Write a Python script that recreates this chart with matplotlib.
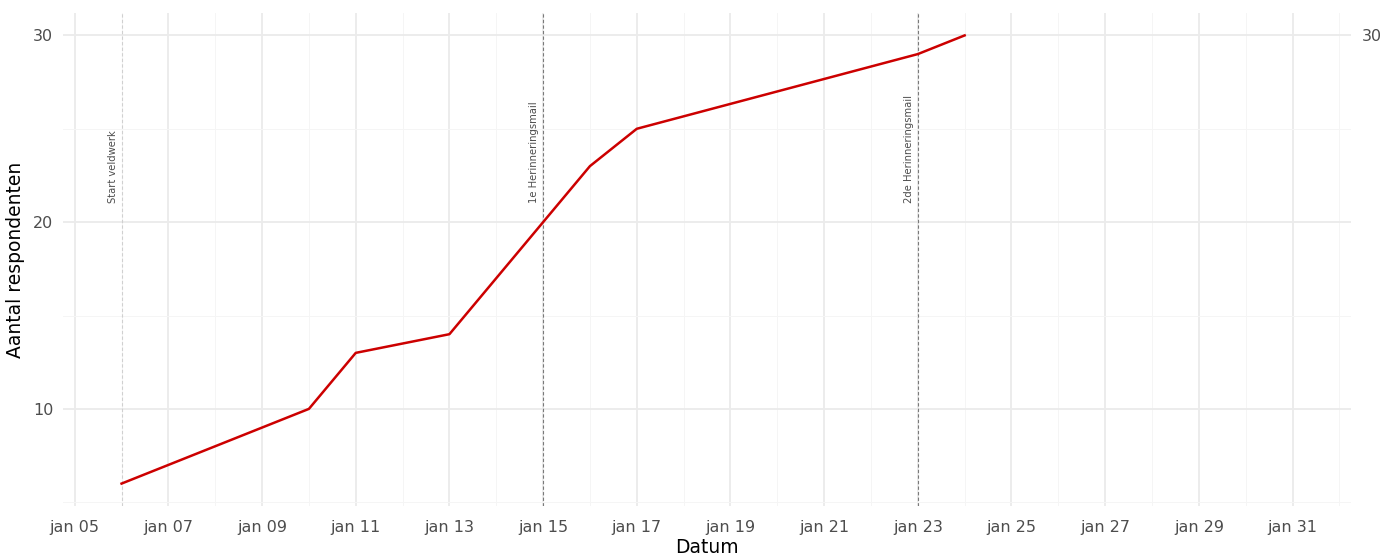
import numpy as np
import pandas as pd
import matplotlib.pyplot as plt
import matplotlib.dates as mdates

# cumulative respondents per day
dates = pd.to_datetime(['2024-01-06', '2024-01-10', '2024-01-11', '2024-01-13',
                        '2024-01-15', '2024-01-16', '2024-01-17', '2024-01-23',
                        '2024-01-24'])
respondents = [6, 10, 13, 14, 20, 23, 25, 29, 30]

# events in the fieldwork
event_dates = pd.to_datetime(['2024-01-06', '2024-01-15', '2024-01-23'])
event_labels = ['Start veldwerk', '1e Herinneringsmail', '2de Herinneringsmail']
event_colors = ['#d0d0d0', '#7a7a7a', '#7a7a7a']

x_start = pd.Timestamp('2024-01-04 18:00')
x_end = pd.Timestamp('2024-02-01 06:00')

fig = plt.figure(figsize=(13.94, 5.58), dpi=100)
ax = fig.add_axes([0.0452, 0.0932, 0.924, 0.8835])

ax.set_xlim(x_start, x_end)
ax.set_ylim(4.8, 31.2)

# grid like ggplot theme_minimal
major_x = pd.date_range('2024-01-05', '2024-01-31', freq='2D')
minor_x = pd.date_range('2024-01-06', '2024-02-01', freq='2D')
ax.set_xticks(major_x)
ax.set_xticks(minor_x, minor=True)
ax.set_yticks([10, 20, 30])
ax.set_yticks([5, 15, 25], minor=True)
ax.xaxis.set_major_formatter(mdates.DateFormatter('jan %d'))
ax.grid(which='major', color='#ebebeb', linewidth=1.3)
ax.grid(which='minor', color='#f5f5f5', linewidth=0.7)
ax.set_axisbelow(True)
for s in ax.spines.values():
    s.set_visible(False)
ax.tick_params(which='both', length=0, labelsize=11.5, labelcolor='#4d4d4d')
ax.tick_params(axis='x', pad=10)
ax.tick_params(axis='y', pad=7)

for d, lab, c in zip(event_dates, event_labels, event_colors):
    ax.axvline(d, color=c, linestyle=(0, (3, 2)), linewidth=0.8, zorder=2)
    ax.text(d - pd.Timedelta(hours=2), 21, lab, rotation=90, fontsize=7.2,
            color='#4d4d4d', ha='right', va='bottom')

ax.plot(dates, respondents, color='#cc0000', linewidth=1.8, zorder=3)

ax.set_xlabel('Datum', fontsize=13.5, labelpad=2)
ax.set_ylabel('Aantal respondenten', fontsize=13.5, labelpad=6)

# right axis showing the final total
ax2 = ax.twinx()
ax2.set_ylim(ax.get_ylim())
ax2.set_yticks([respondents[-1]])
for s in ax2.spines.values():
    s.set_visible(False)
ax2.tick_params(length=0, labelsize=11.5, labelcolor='#4d4d4d', pad=8)

fig.savefig('out.png', dpi=100)
